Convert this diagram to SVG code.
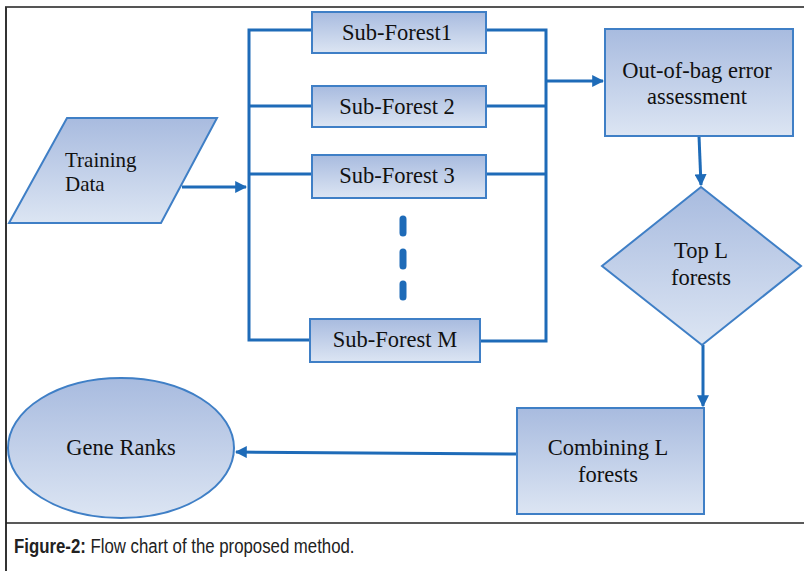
<svg xmlns="http://www.w3.org/2000/svg" width="804" height="571" viewBox="0 0 804 571">
<defs>
<linearGradient id="g" x1="0" y1="0" x2="0" y2="1">
<stop offset="0" stop-color="#a8bbdf"/>
<stop offset="1" stop-color="#dce5f3"/>
</linearGradient>
<marker id="ah" viewBox="0 0 10 10" refX="9" refY="5" markerWidth="4" markerHeight="4" orient="auto" markerUnits="strokeWidth">
<path d="M0,0 L10,5 L0,10 z" fill="#1e6bb8"/>
</marker>
<style>
.n{fill:url(#g);stroke:#3f7fc6;stroke-width:2}
.t{font-family:"Liberation Serif","Times New Roman",serif;font-size:22.5px;fill:#111;text-anchor:middle}
.c{fill:none;stroke:#1e6bb8;stroke-width:3}
.cap{font-family:"Liberation Sans Narrow","Liberation Sans",Arial,sans-serif;font-size:21px;fill:#222}
</style>
</defs>
<rect width="804" height="571" fill="#fff"/>
<g id="frame">
<line x1="5" y1="7" x2="804" y2="7" stroke="#555" stroke-width="2"/>
<line x1="6" y1="7" x2="6" y2="571" stroke="#333" stroke-width="2"/>
<line x1="6" y1="523" x2="804" y2="523" stroke="#222" stroke-width="1.5"/>
</g>
<g id="connectors">
<path class="c" d="M182,187 H246" marker-end="url(#ah)"/>
<path class="c" d="M312,30 H249 V340 H310"/>
<path class="c" d="M249,106 H312"/>
<path class="c" d="M249,174 H312"/>
<path class="c" d="M486,30 H546 V341 H480"/>
<path class="c" d="M486,106 H546"/>
<path class="c" d="M486,174 H546"/>
<path class="c" d="M546,81 H603" marker-end="url(#ah)"/>
<path class="c" d="M699,136 L701,185" marker-end="url(#ah)"/>
<path class="c" d="M703,345 V406" marker-end="url(#ah)"/>
<path class="c" d="M517,454 L236,452" marker-end="url(#ah)"/>
<path d="M403,219 V233 M403,252 V266 M403,284 V297" stroke="#1e6bb8" stroke-width="7" stroke-linecap="round" fill="none"/>
</g>
<g id="training">
<polygon class="n" points="67,118 217,118 161,223 9,223"/>
<text class="t" style="font-size:21px;text-anchor:start" x="65" y="167">Training</text>
<text class="t" style="font-size:21px;text-anchor:start" x="65" y="191">Data</text>
</g>
<g id="sf1">
<rect class="n" x="312" y="12" width="174" height="41"/>
<text class="t" x="397" y="40">Sub-Forest1</text>
</g>
<g id="sf2">
<rect class="n" x="312" y="86" width="174" height="41"/>
<text class="t" x="397" y="114">Sub-Forest 2</text>
</g>
<g id="sf3">
<rect class="n" x="312" y="155" width="174" height="43"/>
<text class="t" x="397" y="183">Sub-Forest 3</text>
</g>
<g id="sfm">
<rect class="n" x="310" y="319" width="170" height="43"/>
<text class="t" x="395" y="347">Sub-Forest M</text>
</g>
<g id="oob">
<rect class="n" x="605" y="29" width="188" height="107"/>
<text class="t" x="697" y="78">Out-of-bag error</text>
<text class="t" x="697" y="104">assessment</text>
</g>
<g id="topl">
<polygon class="n" points="701,187 801,266 702,345 602,266"/>
<text class="t" x="701" y="258">Top L</text>
<text class="t" x="701" y="285">forests</text>
</g>
<g id="combine">
<rect class="n" x="517" y="408" width="187" height="106"/>
<text class="t" x="608" y="455">Combining L</text>
<text class="t" x="608" y="482">forests</text>
</g>
<g id="gene">
<ellipse class="n" cx="121" cy="448" rx="113" ry="70"/>
<text class="t" x="121" y="455">Gene Ranks</text>
</g>
<g id="caption">
<text class="cap" transform="translate(14,553) scale(0.8,1)" x="0" y="0"><tspan font-weight="bold">Figure-2:</tspan> Flow chart of the proposed method.</text>
</g>
</svg>
